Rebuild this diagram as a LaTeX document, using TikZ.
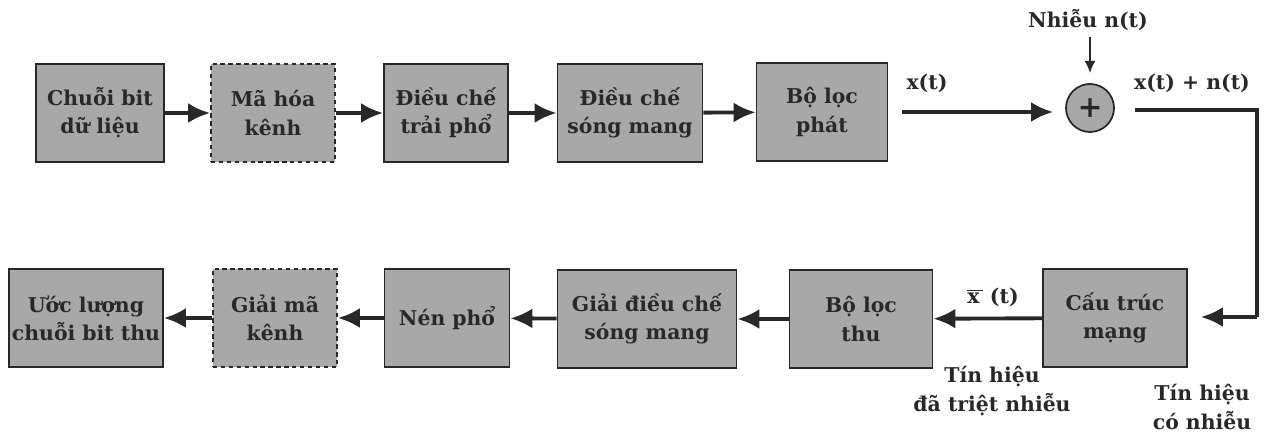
\documentclass[tikz,border=0pt]{standalone}
\usepackage{fontspec}
\setmainfont{DejaVu Serif}
\usepackage{tikz}
\usetikzlibrary{
	positioning,   %定位
	arrows.meta,   %箭头
	calc           %计算
}
\definecolor{khoi}{RGB}{168,168,168}
\definecolor{muc}{RGB}{40,40,40}
\tikzset{
	every picture/.style={
		font=\bfseries\fontsize{11.6}{16}\selectfont,
		text=muc
	},
	khoi/.style={rectangle,draw=muc,line width=1pt,fill=khoi,
		minimum height=1.96cm,inner sep=0pt,align=center},
	khoinet/.style={khoi,dashed,dash pattern=on 2.5pt off 2pt},
	mui/.style={-{Latex[length=4.4mm,width=4mm]},draw=muc,line width=2.2pt},
	nhan/.style={align=center,inner sep=0pt}
}
\begin{document}
\begin{tikzpicture}[x=0.02cm,y=-0.02cm]
\useasboundingbox (0,0) rectangle (1264,435);
% hàng trên: bên phát
\node[khoi,minimum width=2.56cm] (c1) at (100,113) {Chuỗi bit\\dữ liệu};
\node[khoinet,minimum width=2.48cm] (c2) at (273,113) {Mã hóa\\kênh};
\node[khoi,minimum width=2.48cm] (c3) at (446,113) {Điều chế\\trải phổ};
\node[khoi,minimum width=2.9cm] (c4) at (630,113) {Điều chế\\sóng mang};
\node[khoi,minimum width=2.62cm] (c5) at (822,112) {Bộ lọc\\phát};
\draw[mui] (c1) -- (c2);
\draw[mui] (c2) -- (c3);
\draw[mui] (c3) -- (c4);
\draw[mui] (c4) -- (c5);
% bộ cộng nhiễu
\node[circle,draw=muc,line width=1pt,fill=khoi,minimum size=0.96cm,inner sep=0pt] (cong) at (1090,108) {\fontsize{17}{17}\selectfont +};
\coordinate (xt) at (902,112);
\draw[mui] (xt) -- ([xshift=-0.24cm]cong.west |- xt);
\node[nhan] (lxt) at (927,83) {x(t)};
\node[nhan] (nhieu) at (1088,20) {Nhiễu n(t)};
\coordinate (nt) at (1090,37);
\draw[-{Latex[length=2.4mm,width=2.2mm]},draw=muc,line width=1pt] (nt) -- (1090,73);
\node[nhan] (lxn) at (1192,83) {x(t) + n(t)};
% đường vòng xuống bên thu
\coordinate (r1) at (1135,110);
\coordinate (r2) at (1257,317);
% hàng dưới: bên thu
\node[khoi,minimum width=3.08cm] (d1) at (86,318) {Ước lượng\\chuỗi bit thu};
\node[khoinet,minimum width=2.48cm] (d2) at (275,318) {Giải mã\\kênh};
\node[khoi,minimum width=2.5cm] (d3) at (447,318) {Nén phổ};
\node[khoi,minimum width=3.58cm] (d4) at (647,319) {Giải điều chế\\sóng mang};
\node[khoi,minimum width=2.86cm] (d5) at (861,319) {Bộ lọc\\thu};
\node[khoi,minimum width=2.88cm] (d6) at (1115,318) {Cấu trúc\\mạng};
\draw[line width=2.2pt,draw=muc] (r1) -| (r2);
\draw[mui,shorten >=0.26cm] (r2) -- (d6.east |- r2);
\draw[mui] (d6) -- (d5);
\draw[mui] (d5) -- (d4);
\draw[mui] (d4) -- (d3);
\draw[mui] (d3) -- (d2);
\draw[mui] (d2) -- (d1);
\node[nhan] (lxb) at (993,297) {$\overline{\hbox{\bfseries x\,}}$ (t)};
\node[nhan] (tr1) at (992,391) {Tín hiệu\\đã triệt nhiễu};
\node[nhan] (tr2) at (1202,407) {Tín hiệu\\có nhiễu};
\end{tikzpicture}
\end{document}
